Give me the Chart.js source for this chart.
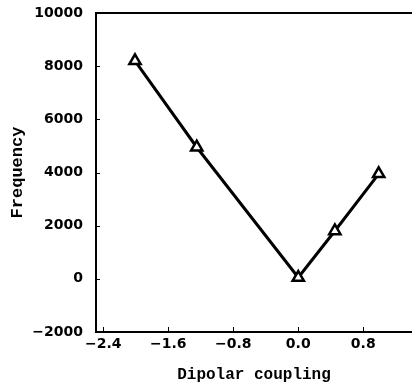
<!DOCTYPE html>
<html>
<head>
<meta charset="utf-8">
<script src="https://cdn.jsdelivr.net/npm/chart.js@4/dist/chart.umd.min.js"></script>
<style>
html,body{margin:0;padding:0;background:#fff;}
canvas{display:block;}
</style>
</head>
<body>
<canvas id="c" width="412" height="385"></canvas>
<script>
const couplingValues = [-2.01, -1.25, 0.0, 0.45, 0.99];
const frequencyValues = [8200, 4950, 50, 1800, 3950];
const xTickValues = [-2.4, -1.6, -0.8, 0.0, 0.8];
const yTickValues = [-2000, 0, 2000, 4000, 6000, 8000, 10000];
const xTitle = 'Dipolar coupling';
const yTitle = 'Frequency';

const points = couplingValues.map((x, i) => ({x: x, y: frequencyValues[i]}));

const frame = {
  id: 'frame',
  afterDraw(chart) {
    const {ctx, chartArea: a, scales} = chart;
    ctx.save();
    ctx.strokeStyle = '#000';
    ctx.lineWidth = 2;
    ctx.beginPath();
    ctx.moveTo(a.left, a.top);
    ctx.lineTo(a.right, a.top);
    ctx.stroke();
    ctx.lineWidth = 1;
    ctx.beginPath();
    xTickValues.forEach(v => {
      const px = Math.round(scales.x.getPixelForValue(v)) + 0.5;
      ctx.moveTo(px, a.bottom);
      ctx.lineTo(px, a.bottom - 5);
    });
    yTickValues.forEach(v => {
      const py = Math.round(scales.y.getPixelForValue(v)) + 0.5;
      ctx.moveTo(a.left, py);
      ctx.lineTo(a.left + 4, py);
    });
    ctx.stroke();
    ctx.restore();
  }
};

new Chart(document.getElementById('c'), {
  type: 'scatter',
  data: {
    datasets: [{
      data: points,
      showLine: true,
      borderColor: '#000',
      borderWidth: 3,
      pointStyle: 'triangle',
      pointRadius: 6.5,
      pointBorderWidth: 2.5,
      pointBorderColor: '#000',
      pointBackgroundColor: '#fff',
      tension: 0
    }]
  },
  options: {
    responsive: false,
    devicePixelRatio: 1,
    animation: false,
    layout: {autoPadding: false, padding: {top: 13, right: 0, left: 0, bottom: 0}},
    plugins: {legend: {display: false}, tooltip: {enabled: false}},
    scales: {
      x: {
        type: 'linear',
        min: -2.49,
        max: 1.40,
        afterBuildTicks(s) { s.ticks = xTickValues.map(v => ({value: v})); },
        afterFit(s) { s.height = 53; s.paddingLeft = 0; s.paddingRight = 0; },
        grid: {display: false, drawTicks: false},
        border: {display: true, color: '#000', width: 2},
        ticks: {
          color: '#000',
          padding: 4,
          maxRotation: 0,
          font: {family: 'DejaVu Sans', weight: 'bold', size: 14},
          callback: v => (v < 0 ? '\u2212' : '') + Math.abs(v).toFixed(1)
        },
        title: {
          display: true,
          text: xTitle,
          color: '#000',
          padding: {top: 8, bottom: 0},
          font: {family: 'Liberation Mono', weight: 'bold', size: 16}
        }
      },
      y: {
        type: 'linear',
        min: -2000,
        max: 10000,
        afterBuildTicks(s) { s.ticks = yTickValues.map(v => ({value: v})); },
        afterFit(s) { s.width = 96; s.paddingTop = 0; s.paddingBottom = 0; },
        grid: {display: false, drawTicks: false},
        border: {display: true, color: '#000', width: 2},
        ticks: {
          color: '#000',
          padding: 13,
          font: {family: 'DejaVu Sans', weight: 'bold', size: 14},
          callback: v => (v < 0 ? '\u2212' : '') + Math.abs(v)
        },
        title: {
          display: true,
          text: yTitle,
          color: '#000',
          padding: {top: 8, bottom: 4},
          font: {family: 'Liberation Mono', weight: 'bold', size: 17}
        }
      }
    }
  },
  plugins: [frame]
});
</script>
</body>
</html>
